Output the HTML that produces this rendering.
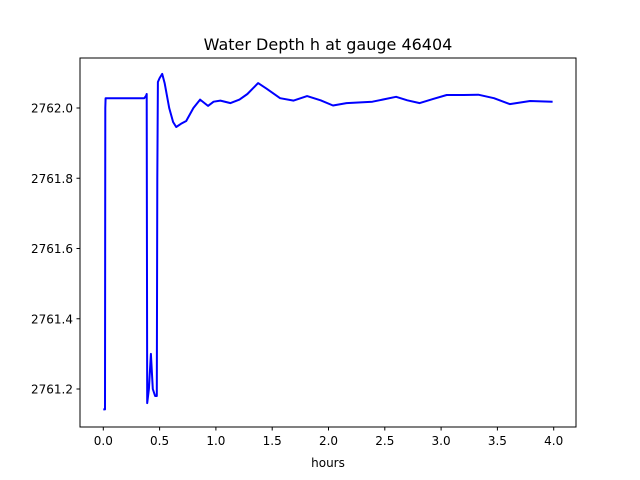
<!DOCTYPE html>
<html><head><meta charset="utf-8"><style>
body{margin:0;background:#fff}
svg{display:block;font-family:"DejaVu Sans","Liberation Sans",sans-serif}
</style></head><body>
<svg id="chart" width="640" height="480">
<rect width="640" height="480" fill="#fff"/>
<text x="328" y="50" font-size="16" text-anchor="middle">Water Depth h at gauge 46404</text>
<g id="plot"></g>
<rect x="80" y="58" width="496" height="369" fill="none" stroke="#000" stroke-width="1"/>
<text x="328" y="467" font-size="12" text-anchor="middle">hours</text>
</svg>
<script>
const hours=[0,0.015,0.018,0.02,0.2,0.364,0.38,0.385,0.39,0.405,0.423,0.44,0.46,0.475,0.48,0.485,0.5,0.523,0.545,0.585,0.62,0.647,0.69,0.736,0.8,0.86,0.93,0.98,1.04,1.13,1.21,1.28,1.375,1.45,1.57,1.69,1.81,1.93,2.04,2.16,2.39,2.6,2.7,2.81,2.93,3.05,3.2,3.33,3.47,3.61,3.79,3.99];
const depth=[2761.142,2761.142,2762.0,2762.028,2762.028,2762.028,2762.035,2762.04,2761.16,2761.2,2761.30,2761.2,2761.18,2761.18,2761.8,2762.074,2762.085,2762.097,2762.07,2762.0,2761.96,2761.946,2761.955,2761.963,2762.0,2762.024,2762.006,2762.018,2762.021,2762.014,2762.024,2762.04,2762.071,2762.055,2762.028,2762.021,2762.034,2762.022,2762.007,2762.014,2762.018,2762.032,2762.022,2762.014,2762.026,2762.037,2762.037,2762.038,2762.028,2762.011,2762.02,2762.018];
const xTicks=[0,0.5,1.0,1.5,2.0,2.5,3.0,3.5,4.0];
const xTickLabels=["0.0","0.5","1.0","1.5","2.0","2.5","3.0","3.5","4.0"];
const yTicks=[2761.2,2761.4,2761.6,2761.8,2762.0];
const yTickLabels=["2761.2","2761.4","2761.6","2761.8","2762.0"];
const NS="http://www.w3.org/2000/svg";
const X=h=>103.3+h*112.6;
const Y=v=>108-(v-2762)*351.25;
const g=document.getElementById('plot');
function mk(t,a){const e=document.createElementNS(NS,t);for(const k in a)e.setAttribute(k,a[k]);return e;}
xTicks.forEach((t,i)=>{
  const l=mk('line',{x1:X(t),x2:X(t),y1:427,y2:430.5,stroke:'#000'});
  
  
  g.appendChild(l);
  const tx=mk('text',{x:X(t),y:445,'font-size':12,'text-anchor':'middle'});
  
  
  tx.textContent=xTickLabels[i];g.appendChild(tx);
});
yTicks.forEach((t,i)=>{
  const l=mk('line',{x1:76.5,x2:80,y1:Y(t),y2:Y(t),stroke:'#000'});
  
  
  g.appendChild(l);
  const tx=mk('text',{x:73,y:Y(t)+4.5,'font-size':12,'text-anchor':'end'});
  
  
  tx.textContent=yTickLabels[i];g.appendChild(tx);
});
const pts=hours.map((h,i)=>X(h).toFixed(1)+','+Y(depth[i]).toFixed(1)).join(' ');
const pl=mk('polyline',{points:pts,fill:'none',stroke:'#0000ff','stroke-width':2,'stroke-linejoin':'round'});


g.appendChild(pl);
</script>
</body></html>
